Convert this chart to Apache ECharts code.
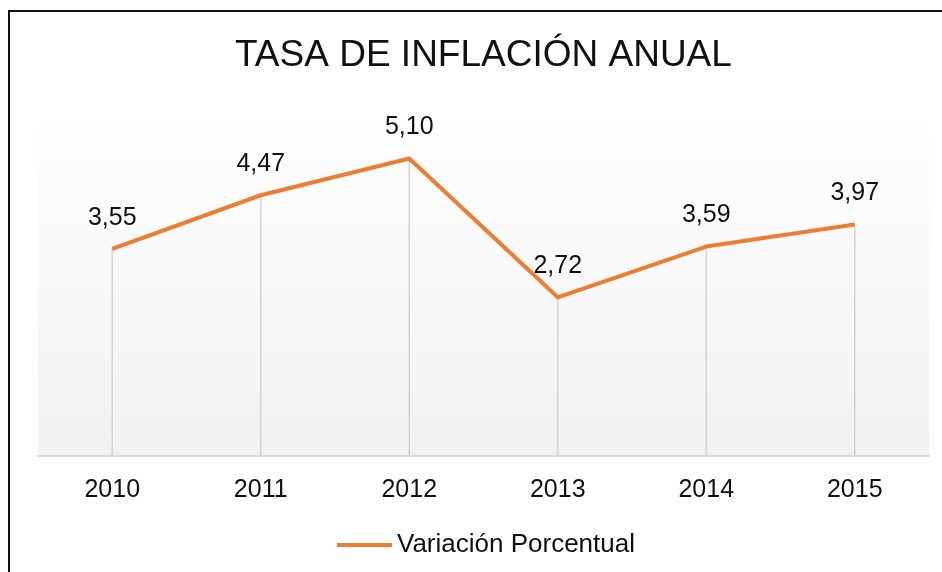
<!DOCTYPE html>
<html>
<head>
<meta charset="utf-8">
<script src="https://cdn.jsdelivr.net/npm/echarts@6/dist/echarts.min.js"></script>
<style>
	html, body { margin: 0; padding: 0; background: #fff; overflow: hidden; }
	#chart { width: 942px; height: 572px; }
	#frame {
		position: absolute; left: 8px; top: 10px; width: 1000px; height: 600px;
		border-left: 2px solid #111; border-top: 2px solid #111; pointer-events: none;
	}
</style>
</head>
<body>
<div id="chart"></div>
<div id="frame"></div>
<script>
	// datos del gráfico
	var years = ['2010', '2011', '2012', '2013', '2014', '2015'];
	var inflation = [3.55, 4.47, 5.10, 2.72, 3.59, 3.97];
	var seriesName = 'Variación Porcentual';
	var titleText = 'TASA DE INFLACIÓN ANUAL';

	var font = "'Liberation Sans', Arial, sans-serif";
	var myChart = echarts.init(document.getElementById('chart'));
	myChart.setOption({
		animation: false,
		title: {
			text: titleText,
			left: 235,
			top: 37,
			padding: 0,
			textStyle: {
				fontFamily: font,
				fontSize: 37,
				fontWeight: 'normal',
				color: '#111'
			}
		},
		legend: {
			data: [seriesName],
			left: 337,
			top: 532,
			padding: 0,
			itemWidth: 55,
			itemHeight: 4,
			itemGap: 5,
			icon: 'rect',
			textStyle: {
				fontFamily: font,
				fontSize: 26,
				color: '#111'
			}
		},
		grid: {
			left: 38,
			right: 13,
			top: 106,
			bottom: 116,
			show: true,
			borderWidth: 0,
			backgroundColor: new echarts.graphic.LinearGradient(0, 0, 0, 1, [
				{ offset: 0, color: '#ffffff' },
				{ offset: 1, color: '#f1f1f1' }
			])
		},
		xAxis: {
			type: 'category',
			data: years,
			boundaryGap: true,
			axisLine: { show: true, lineStyle: { color: '#d9d9d9', width: 2 } },
			axisTick: { show: false },
			axisLabel: {
				margin: 22,
				fontFamily: font,
				fontSize: 25,
				color: '#111'
			}
		},
		yAxis: {
			type: 'value',
			min: 0,
			max: 6,
			show: false,
			splitLine: { show: false }
		},
		series: [{
				// líneas de caída
				name: 'drop',
				type: 'bar',
				barWidth: 1.5,
				silent: true,
				z: 1,
				itemStyle: { color: '#d4d4d4' },
				data: inflation
			},
			{
				name: seriesName,
				type: 'line',
				z: 3,
				symbol: 'circle',
				symbolSize: 1,
				itemStyle: { color: '#ED7D31' },
				lineStyle: { color: '#ED7D31', width: 4 },
				label: {
					show: true,
					position: 'top',
					distance: 18,
					fontFamily: font,
					fontSize: 25,
					color: '#111',
					formatter: function (p) {
						return p.value.toFixed(2).replace('.', ',');
					}
				},
				data: inflation
			}
		]
	});
</script>
</body>
</html>
